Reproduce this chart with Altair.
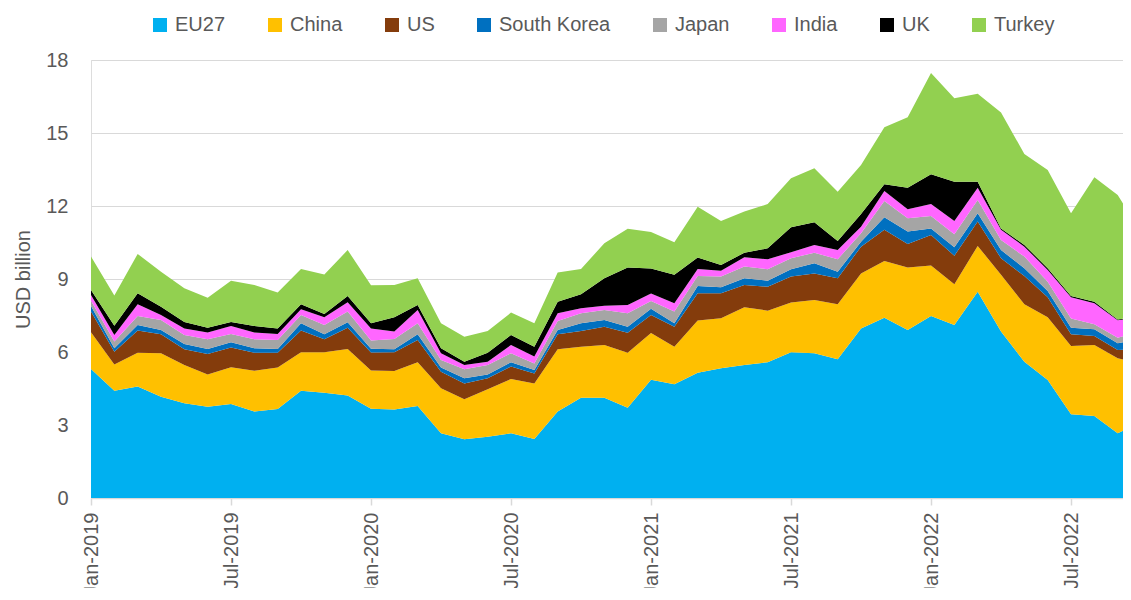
import altair as alt
import pandas as pd

TICK_LABELS = ["Jan-2019", "Jul-2019", "Jan-2020", "Jul-2020",
               "Jan-2021", "Jul-2021", "Jan-2022", "Jul-2022"]
SERIES = ["EU27", "China", "US", "South Korea", "Japan", "India", "UK", "Turkey"]
COLORS = ["#00B0F0", "#FFC000", "#843C0C", "#0070C0", "#A5A5A5", "#FF66FF", "#000000", "#92D050"]

# monthly values, Jan-2019 ... Oct-2022 (USD billion)
EU27 = [5.30, 4.41, 4.58, 4.16, 3.89, 3.75, 3.86, 3.55, 3.66, 4.41, 4.33, 4.21,
        3.67, 3.64, 3.78, 2.66, 2.41, 2.52, 2.66, 2.42, 3.55, 4.12, 4.12, 3.71,
        4.86, 4.67, 5.15, 5.33, 5.47, 5.58, 5.99, 5.95, 5.70, 6.97, 7.41, 6.90,
        7.48, 7.11, 8.48, 6.84, 5.60, 4.85, 3.44, 3.37, 2.66, 3.13]
CHINA = [1.51, 1.08, 1.39, 1.79, 1.58, 1.33, 1.51, 1.68, 1.70, 1.58, 1.66, 1.91,
         1.57, 1.58, 1.80, 1.85, 1.65, 1.95, 2.23, 2.29, 2.56, 2.10, 2.17, 2.26,
         1.92, 1.55, 2.14, 2.06, 2.37, 2.12, 2.04, 2.19, 2.26, 2.26, 2.33, 2.57,
         2.07, 1.67, 1.88, 2.33, 2.36, 2.58, 2.81, 2.92, 3.08, 2.42]
US = [0.85, 0.52, 0.91, 0.78, 0.64, 0.84, 0.82, 0.74, 0.61, 0.89, 0.53, 0.88,
      0.74, 0.77, 0.91, 0.68, 0.65, 0.45, 0.51, 0.41, 0.62, 0.64, 0.75, 0.82,
      0.74, 0.82, 1.12, 1.02, 0.91, 0.98, 1.07, 1.09, 1.07, 1.10, 1.28, 0.97,
      1.26, 1.18, 1.00, 0.68, 1.16, 0.82, 0.48, 0.37, 0.34, 0.58]
SOUTH_KOREA = [0.23, 0.14, 0.23, 0.17, 0.22, 0.20, 0.21, 0.18, 0.15, 0.30, 0.21, 0.22,
               0.15, 0.12, 0.24, 0.17, 0.21, 0.16, 0.18, 0.14, 0.17, 0.32, 0.28, 0.25,
               0.26, 0.14, 0.30, 0.25, 0.28, 0.25, 0.30, 0.42, 0.27, 0.20, 0.52, 0.51,
               0.27, 0.34, 0.34, 0.34, 0.32, 0.26, 0.27, 0.27, 0.28, 0.39]
JAPAN = [0.22, 0.28, 0.37, 0.42, 0.37, 0.40, 0.34, 0.37, 0.37, 0.34, 0.38, 0.44,
         0.34, 0.42, 0.45, 0.31, 0.37, 0.39, 0.37, 0.27, 0.37, 0.41, 0.41, 0.55,
         0.32, 0.48, 0.41, 0.44, 0.48, 0.47, 0.45, 0.43, 0.51, 0.35, 0.67, 0.55,
         0.51, 0.54, 0.55, 0.41, 0.48, 0.38, 0.38, 0.21, 0.23, 0.32]
INDIA = [0.23, 0.27, 0.48, 0.20, 0.27, 0.28, 0.33, 0.28, 0.25, 0.24, 0.32, 0.38,
         0.50, 0.31, 0.55, 0.28, 0.18, 0.13, 0.34, 0.28, 0.32, 0.21, 0.17, 0.34,
         0.30, 0.34, 0.29, 0.24, 0.38, 0.41, 0.25, 0.32, 0.38, 0.27, 0.41, 0.37,
         0.49, 0.54, 0.50, 0.42, 0.41, 0.48, 0.87, 0.86, 0.71, 0.60]
UK = [0.21, 0.38, 0.45, 0.34, 0.26, 0.20, 0.16, 0.27, 0.23, 0.20, 0.13, 0.26,
      0.21, 0.59, 0.20, 0.20, 0.13, 0.37, 0.41, 0.41, 0.48, 0.57, 1.13, 1.54,
      1.03, 1.17, 0.47, 0.24, 0.19, 0.45, 1.03, 0.93, 0.37, 0.52, 0.27, 0.88,
      1.22, 1.62, 0.25, 0.06, 0.07, 0.07, 0.05, 0.07, 0.04, 0.03]
TURKEY = [1.37, 1.24, 1.62, 1.44, 1.39, 1.23, 1.70, 1.68, 1.48, 1.45, 1.63, 1.89,
          1.56, 1.32, 1.10, 1.03, 1.03, 0.89, 0.92, 0.96, 1.20, 1.04, 1.44, 1.59,
          1.50, 1.34, 2.09, 1.80, 1.69, 1.82, 2.01, 2.22, 2.03, 2.02, 2.35, 2.90,
          4.17, 3.43, 3.61, 4.76, 3.74, 4.04, 3.40, 5.11, 5.11, 3.47]

ALL = [EU27, CHINA, US, SOUTH_KOREA, JAPAN, INDIA, UK, TURKEY]

rows = []
for k, (name, vals) in enumerate(zip(SERIES, ALL)):
    for i, v in enumerate(vals):
        rows.append({"m": i, "country": name, "value": v, "order": k})
df = pd.DataFrame(rows)

label_expr = "[" + ",".join("'%s'" % s for s in TICK_LABELS) + "][round(datum.value/6)]"
FONT = "Liberation Sans"
GREY = "#595959"

chart = alt.Chart(df).mark_area(clip=True).encode(
    x=alt.X("m:Q",
            scale=alt.Scale(domain=[0, 44.57], nice=False, zero=False),
            axis=alt.Axis(values=[0, 6, 12, 18, 24, 30, 36, 42], labelExpr=label_expr,
                          title=None, grid=False, labelAngle=270, labelAlign="right",
                          labelBaseline="middle", labelFontSize=20, labelColor=GREY,
                          labelFont=FONT, tickSize=7, tickColor="#D9D9D9", tickWidth=1.5,
                          domainColor="#D9D9D9", domainWidth=1.5, labelPadding=7)),
    y=alt.Y("value:Q", stack="zero",
            scale=alt.Scale(domain=[0, 18], nice=False),
            axis=alt.Axis(values=[0, 3, 6, 9, 12, 15, 18], title="USD billion",
                          grid=True, gridColor="#D9D9D9", gridWidth=1, domain=False,
                          ticks=False, labelPadding=23, labelFontSize=20, labelColor=GREY,
                          labelFont=FONT, titleFont=FONT, titleFontSize=20,
                          titleColor=GREY, titleFontWeight="normal", titlePadding=12)),
    color=alt.Color("country:N",
                    scale=alt.Scale(domain=SERIES, range=COLORS),
                    legend=alt.Legend(title=None, orient="none", direction="horizontal",
                                      legendX=59, legendY=-45, symbolType="square",
                                      symbolSize=196, symbolStrokeWidth=0,
                                      labelFontSize=20, labelColor=GREY, labelFont=FONT,
                                      labelOffset=5, columnPadding=39, padding=0)),
    order=alt.Order("order:Q", sort="ascending"),
).properties(
    width=1040, height=438,
    autosize=alt.AutoSizeParams(type="none"),
    padding={"left": 83, "top": 52, "right": -8, "bottom": 90},
).configure_view(stroke=None).configure(background="white")

chart.save("out.html", embed_options={"renderer": "svg", "actions": False})
